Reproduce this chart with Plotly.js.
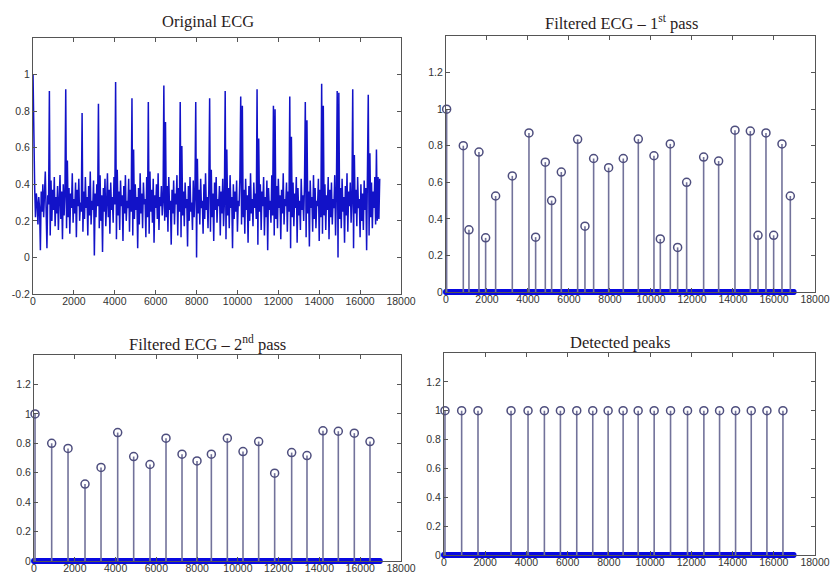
<!DOCTYPE html>
<html>
<head>
<meta charset="utf-8">
<script src="https://cdn.plot.ly/plotly-3.0.1.min.js"></script>
<style>html,body{margin:0;padding:0;background:#fff;}#chart{width:830px;height:574px;}</style>
</head>
<body>
<div id="chart"></div>
<script>
// ---- DATA ----
// Original ECG, one value every sampleStep samples
const sampleStep = 40;
const ecgSamples = [
  1.00,0.57,0.38,0.22,0.35,0.30,0.18,0.33,0.27,0.04,0.36,0.25,0.40,0.22,0.31,0.47,0.26,0.05,0.34,0.29,
  0.91,0.12,0.42,0.20,0.37,0.26,0.44,0.17,0.33,0.24,0.39,0.15,0.31,0.45,0.21,0.36,0.10,0.40,0.23,0.34,
  0.92,0.16,0.53,0.22,0.38,0.13,0.35,0.27,0.46,0.19,0.32,0.24,0.41,0.11,0.37,0.28,0.43,0.20,0.30,0.25,
  0.79,0.14,0.36,0.21,0.44,0.27,0.33,0.12,0.39,0.23,0.47,0.18,0.31,0.26,0.42,0.01,0.35,0.22,0.40,0.28,
  0.84,0.16,0.45,0.20,0.34,0.03,0.38,0.25,0.43,0.17,0.30,0.46,0.22,0.37,0.13,0.41,0.26,0.33,0.19,0.44,0.29,
  0.96,0.10,0.48,0.23,0.36,0.15,0.42,0.28,0.34,0.09,0.39,0.24,0.45,0.20,0.31,0.27,0.43,0.14,0.37,0.25,
  0.87,0.12,0.59,0.21,0.40,0.26,0.33,0.05,0.38,0.18,0.46,0.24,0.35,0.16,0.41,0.29,0.32,0.11,0.44,0.22,
  0.85,0.13,0.47,0.25,0.37,0.19,0.43,0.08,0.34,0.27,0.40,0.21,0.46,0.15,0.33,0.28,0.39,0.23,0.30,
  0.94,0.20,0.74,0.22,0.39,0.14,0.44,0.26,0.31,0.07,0.37,0.24,0.42,0.18,0.35,0.29,0.45,0.12,0.38,0.25,
  0.85,0.11,0.61,0.23,0.36,0.17,0.41,0.27,0.32,0.06,0.39,0.20,0.44,0.25,0.30,0.15,0.42,0.22,0.34,
  0.85,0.00,0.54,0.24,0.37,0.18,0.43,0.27,0.31,0.13,0.40,0.21,0.46,0.26,0.33,0.16,0.38,
  0.87,0.14,0.48,0.22,0.35,0.09,0.41,0.26,0.44,0.19,0.32,0.28,0.39,0.12,0.36,0.24,0.43,0.17,0.30,
  0.91,0.10,0.59,0.23,0.38,0.16,0.45,0.27,0.33,0.05,0.40,0.21,0.36,0.25,0.42,0.14,0.31,0.28,0.44,
  0.88,0.18,0.83,0.22,0.37,0.13,0.43,0.26,0.34,0.08,0.39,0.20,0.46,0.24,0.32,0.17,0.41,0.27,0.35,0.21,
  0.92,0.07,0.65,0.25,0.40,0.15,0.36,0.28,0.44,0.12,0.33,0.22,0.42,0.04,0.38,0.26,0.31,0.19,0.45,0.23,
  0.83,0.12,0.81,0.21,0.39,0.16,0.43,0.27,0.34,0.10,0.37,0.24,0.46,0.18,0.32,0.28,0.41,0.14,0.36,0.25,
  0.88,0.05,0.66,0.22,0.41,0.17,0.35,0.27,0.44,0.08,0.38,0.23,0.31,0.15,0.43,0.26,0.34,0.20,0.40,
  0.85,0.11,0.75,0.24,0.36,0.06,0.42,0.27,0.33,0.14,0.45,0.21,0.38,0.16,0.31,0.28,0.43,0.09,0.37,0.22,
  0.95,0.13,0.83,0.23,0.40,0.15,0.34,0.26,0.44,0.10,0.37,0.22,0.41,0.18,0.32,0.27,0.45,0.12,0.35,
  0.91,0.00,0.90,0.21,0.38,0.16,0.43,0.25,0.33,0.08,0.39,0.23,0.46,0.14,0.36,0.28,0.41,0.19,0.31,
  0.92,0.05,0.56,0.24,0.37,0.17,0.44,0.27,0.32,0.11,0.40,0.20,0.35,0.15,0.42,0.26,0.38,0.04,0.34,
  0.89,0.12,0.57,0.22,0.41,0.16,0.36,0.27,0.44,0.18,
  0.59,0.20,0.44,0.21,0.43
];

// Filtered ECG – 1st pass (non-zero samples)
const pass1Pos = [33,846,1122,1610,1935,2423,3236,4049,4374,4846,5155,5626,6423,6780,7203,7935,8650,9382,10146,10455,10943,11301,11740,12569,13301,14098,14846,15220,15610,15984,16390,16797];
const pass1Val = [1.00,0.80,0.34,0.765,0.296,0.525,0.635,0.87,0.30,0.71,0.50,0.656,0.835,0.36,0.73,0.68,0.73,0.836,0.745,0.29,0.81,0.244,0.60,0.738,0.716,0.885,0.88,0.31,0.87,0.31,0.81,0.525];

// Filtered ECG – 2nd pass
const pass2Pos = [49,866,1668,2501,3286,4104,4888,5689,6474,7259,7995,8698,9482,10251,11019,11804,12638,13390,14174,14926,15711,16480];
const pass2Val = [1.00,0.80,0.765,0.523,0.636,0.873,0.71,0.656,0.835,0.726,0.68,0.726,0.835,0.744,0.812,0.597,0.737,0.717,0.885,0.882,0.869,0.812];

// Detected peaks
const peakPos = [49,858,1651,3254,4079,4872,5649,6442,7219,7964,8692,9421,10198,10993,11817,12610,13371,14148,14908,15669,16446];
const peakVal = [1,1,1,1,1,1,1,1,1,1,1,1,1,1,1,1,1,1,1,1,1];

const xTicks = [0,2000,4000,6000,8000,10000,12000,14000,16000,18000];
const xTickText = ["0","2000","4000","6000","8000","10000","12000","14000","16000","18000"];
const ecgYTicks = [-0.2,0,0.2,0.4,0.6,0.8,1];
const ecgYTickText = ["-0.2","0","0.2","0.4","0.6","0.8","1"];
const stemYTicks = [0,0.2,0.4,0.6,0.8,1,1.2];
const stemYTickText = ["0","0.2","0.4","0.6","0.8","1","1.2"];
const titles = ["Original ECG","Filtered ECG – 1<sup>st</sup> pass","Filtered ECG – 2<sup>nd</sup> pass","Detected peaks"];

// ---- BUILD ----
const sampleX = ecgSamples.map((_, i) => i * sampleStep);
const zeros = sampleX.map(() => 0);

function stemTraces(pos, val, xa, ya) {
  const sx = [], sy = [];
  pos.forEach((p, i) => { sx.push(p, p, null); sy.push(0, val[i], null); });
  return [
    {x: sampleX, y: zeros, xaxis: xa, yaxis: ya, type: 'scatter', mode: 'markers',
     marker: {symbol: 'circle', size: 6, color: '#0a0ae0'}, cliponaxis: false, hoverinfo: 'skip'},
    {x: sx, y: sy, xaxis: xa, yaxis: ya, type: 'scatter', mode: 'lines',
     line: {color: '#72729a', width: 1.6}, hoverinfo: 'skip'},
    {x: pos, y: val, xaxis: xa, yaxis: ya, type: 'scatter', mode: 'markers',
     marker: {symbol: 'circle-open', size: 8, color: '#4e4e7e', line: {width: 1.5}}, cliponaxis: false}
  ];
}

const data = [
  {x: sampleX, y: ecgSamples, xaxis: 'x', yaxis: 'y', type: 'scatter', mode: 'lines',
   line: {color: '#1212c8', width: 1.5}},
  ...stemTraces(pass1Pos, pass1Val, 'x2', 'y2'),
  ...stemTraces(pass2Pos, pass2Val, 'x3', 'y3'),
  ...stemTraces(peakPos, peakVal, 'x4', 'y4')
];

const tickFont = {family: 'Liberation Sans, Arial, sans-serif', size: 10.5, color: '#333'};
function xAx(domain, anchor) {
  return {domain, anchor, range: [0, 18000], tickvals: xTicks, ticktext: xTickText,
    ticks: 'inside', ticklen: 4, tickcolor: '#555', showline: true, linecolor: '#555', linewidth: 1,
    mirror: 'ticks', showgrid: false, zeroline: false, tickfont: tickFont, fixedrange: true,
    ticklabelstandoff: -3};
}
function yAx(domain, anchor, range, tv, tt) {
  return {domain, anchor, range, tickvals: tv, ticktext: tt,
    ticks: 'inside', ticklen: 4, tickcolor: '#555', showline: true, linecolor: '#555', linewidth: 1,
    mirror: 'ticks', showgrid: false, zeroline: false, tickfont: tickFont, fixedrange: true};
}

const titleFont = {family: 'Liberation Serif, Times New Roman, serif', size: 16.5, color: '#2a1c1c'};
const layout = {
  width: 830, height: 574, margin: {l: 0, r: 0, t: 0, b: 0},
  paper_bgcolor: '#fff', plot_bgcolor: '#fff', showlegend: false,
  xaxis: xAx([0.0398, 0.4831], 'y'),
  yaxis: yAx([0.4878, 0.9338], 'x', [-0.2, 1.2], ecgYTicks, ecgYTickText),
  xaxis2: xAx([0.5373, 0.9819], 'y2'),
  yaxis2: yAx([0.4913, 0.9373], 'x2', [0, 1.4], stemYTicks, stemYTickText),
  xaxis3: xAx([0.041, 0.4831], 'y3'),
  yaxis3: yAx([0.0226, 0.3815], 'x3', [0, 1.4], stemYTicks, stemYTickText),
  xaxis4: xAx([0.5349, 0.9819], 'y4'),
  yaxis4: yAx([0.0331, 0.385], 'x4', [0, 1.4], stemYTicks, stemYTickText),
  annotations: [
    {text: titles[0], x: 0.2506, y: 0.963},
    {text: titles[1], x: 0.749, y: 0.960},
    {text: titles[2], x: 0.2494, y: 0.4024},
    {text: titles[3], x: 0.747, y: 0.404}
  ].map(a => Object.assign(a, {xref: 'paper', yref: 'paper', xanchor: 'center', yanchor: 'middle',
      showarrow: false, font: titleFont}))
};

Plotly.newPlot('chart', data, layout, {displayModeBar: false, staticPlot: true});
</script>
</body>
</html>
